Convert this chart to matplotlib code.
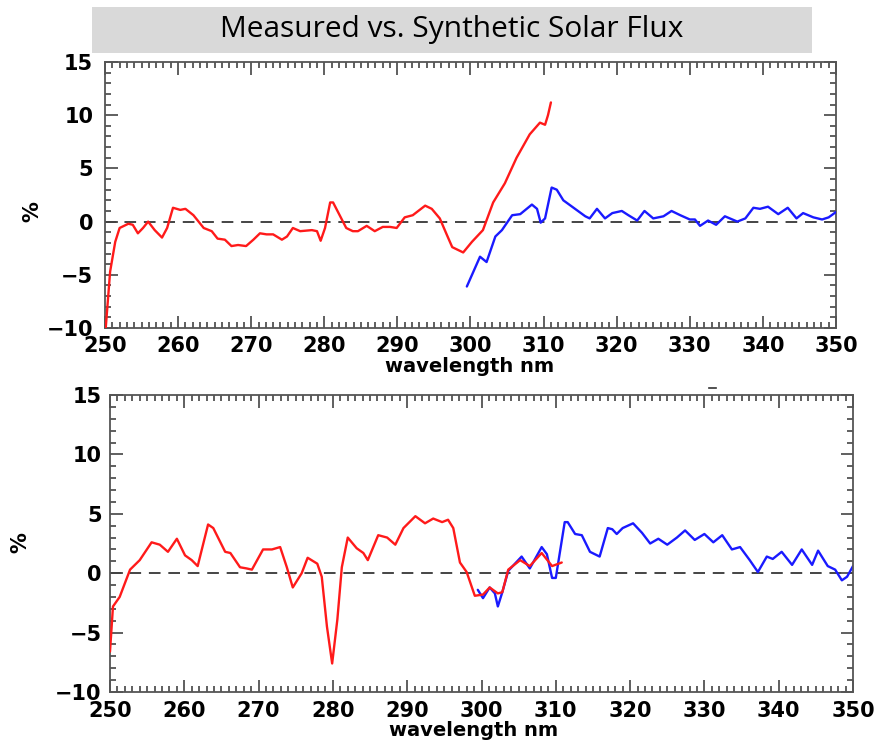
import matplotlib
matplotlib.use("Agg")
import matplotlib.pyplot as plt
from matplotlib.patches import Rectangle
from matplotlib.lines import Line2D
from matplotlib.ticker import MultipleLocator

# ---------------- data ----------------
top_red_x = [250.1, 250.7, 251.4, 252.0, 253.2, 253.8, 254.5, 255.2, 255.9, 256.8, 257.8, 258.5,
             259.3, 260.3, 261.0, 262.1, 263.5, 264.6, 265.4, 266.4, 267.3, 268.2, 269.3, 270.3,
             271.2, 272.1, 273.0, 274.2, 274.9, 275.7, 276.7, 278.3, 279.0, 279.5, 280.1, 280.8,
             281.2, 282.1, 283.0, 283.9, 284.6, 285.8, 286.9, 288.0, 289.0, 289.9, 291.0, 292.1,
             293.8, 294.7, 295.8, 296.8, 297.5, 299.0, 300.2, 301.7, 303.1, 304.7, 306.3, 308.1,
             309.5, 310.2, 310.6, 311.0]
top_red_y = [-10.0, -4.7, -1.9, -0.6, -0.2, -0.3, -1.1, -0.6, 0.0, -0.8, -1.5, -0.6,
             1.3, 1.1, 1.2, 0.6, -0.6, -0.9, -1.6, -1.7, -2.3, -2.2, -2.3, -1.7,
             -1.1, -1.2, -1.2, -1.7, -1.4, -0.6, -0.9, -0.8, -0.9, -1.8, -0.6, 1.8,
             1.8, 0.6, -0.6, -0.9, -0.9, -0.4, -0.9, -0.5, -0.5, -0.6, 0.4, 0.6,
             1.5, 1.2, 0.3, -1.3, -2.4, -2.9, -1.9, -0.8, 1.8, 3.6, 6.0, 8.2,
             9.3, 9.1, 10.0, 11.2]

top_blue_x = [299.5, 301.3, 302.2, 303.4, 304.3, 305.7, 306.8, 308.4, 309.1, 309.6, 310.2, 311.1,
              311.8, 312.7, 314.5, 315.7, 316.3, 317.3, 318.4, 319.4, 320.7, 321.6, 322.8, 323.8,
              325.0, 326.4, 327.5, 328.7, 330.0, 330.7, 331.4, 332.5, 333.6, 334.8, 336.5, 337.6,
              338.7, 339.6, 340.7, 342.1, 343.4, 344.6, 345.5, 346.9, 348.1, 349.0, 350.0]
top_blue_y = [-6.1, -3.3, -3.8, -1.4, -0.8, 0.6, 0.7, 1.6, 1.2, -0.1, 0.3, 3.2,
              3.0, 2.0, 1.1, 0.5, 0.3, 1.2, 0.3, 0.8, 1.0, 0.6, 0.1, 1.0,
              0.3, 0.5, 1.0, 0.6, 0.2, 0.2, -0.4, 0.1, -0.3, 0.5, 0.0, 0.3,
              1.3, 1.2, 1.4, 0.7, 1.3, 0.3, 0.8, 0.4, 0.2, 0.4, 0.9]

bot_red_x = [250.0, 250.4, 251.3, 252.7, 254.0, 255.6, 256.7, 257.8, 259.0, 260.1, 261.0, 261.8,
             263.2, 263.9, 265.5, 266.2, 267.5, 268.4, 269.1, 270.6, 271.8, 272.9, 273.8, 274.6,
             275.8, 276.6, 277.9, 278.5, 279.2, 279.9, 280.6, 281.2, 282.0, 283.2, 284.1, 284.7,
             286.1, 287.3, 288.4, 289.5, 291.1, 292.4, 293.5, 294.7, 295.5, 296.2, 297.1, 298.0,
             299.1, 300.2, 301.1, 302.2, 302.8, 303.6, 305.2, 306.5, 308.1, 309.5, 310.8]
bot_red_y = [-6.6, -2.8, -2.0, 0.3, 1.1, 2.6, 2.4, 1.8, 2.9, 1.5, 1.1, 0.6,
             4.1, 3.8, 1.8, 1.7, 0.5, 0.4, 0.3, 2.0, 2.0, 2.2, 0.5, -1.2,
             0.0, 1.3, 0.8, -0.3, -4.5, -7.6, -3.9, 0.5, 3.0, 2.1, 1.7, 1.1,
             3.2, 3.0, 2.4, 3.8, 4.8, 4.2, 4.6, 4.3, 4.5, 3.8, 0.9, 0.1,
             -1.9, -1.8, -1.2, -1.7, -1.6, 0.3, 1.1, 0.6, 1.7, 0.6, 0.9]

bot_blue_x = [299.5, 300.2, 301.1, 301.8, 302.2, 302.8, 303.6, 304.2, 305.4, 306.5, 308.1, 308.8,
              309.5, 310.0, 311.2, 311.6, 312.6, 313.5, 314.6, 315.9, 317.0, 317.6, 318.2, 319.0,
              320.4, 321.6, 322.7, 323.8, 325.0, 326.3, 327.4, 328.7, 330.0, 331.2, 332.4, 333.7,
              334.8, 336.1, 337.2, 338.4, 339.2, 340.4, 341.8, 343.1, 344.5, 345.3, 346.6, 347.6,
              348.5, 349.2, 350.0]
bot_blue_y = [-1.4, -2.1, -1.2, -1.7, -2.8, -1.6, 0.2, 0.6, 1.4, 0.4, 2.2, 1.6,
              -0.4, -0.4, 4.3, 4.3, 3.3, 3.2, 1.8, 1.4, 3.8, 3.7, 3.3, 3.8,
              4.2, 3.4, 2.5, 2.9, 2.4, 3.0, 3.6, 2.8, 3.3, 2.6, 3.2, 2.0,
              2.2, 1.1, 0.1, 1.4, 1.2, 1.8, 0.7, 2.0, 0.7, 1.9, 0.6, 0.3,
              -0.6, -0.3, 0.6]

xlim = (250, 350)
ylim = (-10, 15)
title = "Measured vs. Synthetic Solar Flux"
xlabel = "wavelength nm"
ylabel = "%"

# ---------------- figure ----------------
W, H = 879, 741
fig = plt.figure(figsize=(W / 100, H / 100), dpi=100)

def ax_rect(l, t, r, b):
    return [l / W, 1 - b / H, (r - l) / W, (b - t) / H]

FONT = "DejaVu Sans"

def style(ax, xpad, ypad, ylab_xy, xlab_xy):
    ax.set_xlim(*xlim)
    ax.set_ylim(*ylim)
    ax.xaxis.set_major_locator(MultipleLocator(10))
    ax.xaxis.set_minor_locator(MultipleLocator(1))
    ax.yaxis.set_major_locator(MultipleLocator(5))
    ax.yaxis.set_minor_locator(MultipleLocator(1))
    ax.tick_params(which="both", direction="in", top=True, right=True,
                   color="#444444", width=1.2)
    ax.tick_params(which="major", length=9)
    ax.tick_params(which="minor", length=4.5)
    ax.tick_params(axis="x", pad=xpad)
    ax.tick_params(axis="y", pad=ypad)
    for sp in ax.spines.values():
        sp.set_color("#555555")
        sp.set_linewidth(1.3)
    for lab in ax.get_xticklabels() + ax.get_yticklabels():
        lab.set_fontfamily(FONT)
        lab.set_fontweight("bold")
        lab.set_fontsize(15)
    ax.set_xlabel(xlabel, fontfamily=FONT, fontweight="bold", fontsize=14)
    ax.set_ylabel(ylabel, fontfamily=FONT, fontweight="bold", fontsize=15)
    ax.xaxis.set_label_coords(*xlab_xy)
    ax.xaxis.label.set_verticalalignment("center")
    ax.yaxis.set_label_coords(*ylab_xy)
    ax.yaxis.label.set_verticalalignment("center")
    ax.axhline(0, color="#444444", lw=1.4, ls=(0, (6, 4)), zorder=1)

line_kw = dict(lw=1.7, solid_joinstyle="round", solid_capstyle="round")

# top panel: axes pixels l=105, t=62, r=836, b=328
ax1 = fig.add_axes(ax_rect(105, 62, 836, 328))
ax1.plot(top_red_x, top_red_y, color="#ff1a1a", zorder=3, **line_kw)
ax1.plot(top_blue_x, top_blue_y, color="#1a1aff", zorder=3, **line_kw)
style(ax1, 5.5, 8.5, ((32 - 105) / 731, (328 - 212) / 266), ((470 - 105) / 731, (328 - 367) / 266))

# bottom panel: axes pixels l=110, t=395, r=853, b=692
ax2 = fig.add_axes(ax_rect(110, 395, 853, 692))
ax2.plot(bot_red_x, bot_red_y, color="#ff1a1a", zorder=3, **line_kw)
ax2.plot(bot_blue_x, bot_blue_y, color="#1a1aff", zorder=2, **line_kw)
style(ax2, 6.5, 6, ((20 - 110) / 743, (692 - 543) / 297), ((474 - 110) / 743, (692 - 731) / 297))

# title box
fig.add_artist(Rectangle((92 / W, 1 - 53 / H), (812 - 92) / W, (53 - 7) / H,
                         transform=fig.transFigure, facecolor="#d9d9d9",
                         edgecolor="none", zorder=0))
fig.text(452 / W, 1 - 29 / H, title, ha="center", va="center",
         fontfamily="Open Sans", fontsize=21.5, color="black")

# small stray dash above lower panel
fig.add_artist(Line2D([709 / W, 716 / W], [1 - 388 / H, 1 - 388 / H],
                      transform=fig.transFigure, color="#333333", lw=1.2))

fig.savefig("out.png", dpi=100)
